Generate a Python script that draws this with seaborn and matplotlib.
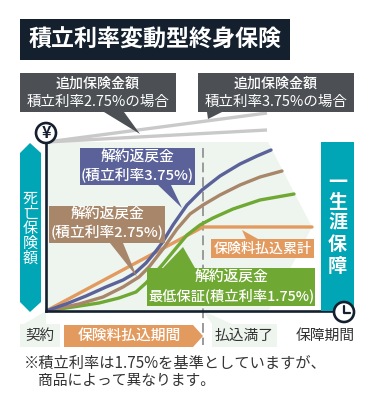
import matplotlib
matplotlib.use("Agg")
import matplotlib.pyplot as plt
from matplotlib.patches import Polygon, Rectangle, Circle
import pandas as pd
import seaborn as sns

sns.set_theme(style="white")
plt.rcParams['font.family'] = ['Noto Sans CJK JP', 'DejaVu Sans']

# --- data (x = elapsed time, y = amount, in chart units)
blue_x = [0, 20, 40, 60, 77, 89, 100, 110, 116, 127, 141, 156, 174, 194, 211, 225]
blue_y = [0, 7, 15, 24, 31, 38, 48, 60, 68, 86, 106, 121, 135, 147, 155, 161]
brown_x = [0, 33, 57, 77, 93, 103, 110, 117, 131, 144, 157, 174, 194, 214, 236]
brown_y = [0, 7, 14, 24, 34, 44, 53, 62, 82, 97, 106, 116, 126, 134, 140]
green_x = [0, 27, 53, 73, 90, 100, 110, 117, 131, 141, 154, 167, 187, 214, 248]
green_y = [0, 4, 8, 13, 19, 28, 39, 47, 64, 76, 86, 93, 102, 111, 117]
paid_x = [0, 157, 266]
paid_y = [0, 84, 84]

df = pd.concat([
    pd.DataFrame({"x": paid_x, "y": paid_y, "s": "保険料払込累計"}),
    pd.DataFrame({"x": green_x, "y": green_y, "s": "最低保証(1.75%)"}),
    pd.DataFrame({"x": brown_x, "y": brown_y, "s": "2.75%"}),
    pd.DataFrame({"x": blue_x, "y": blue_y, "s": "3.75%"}),
])
palette = {"保険料払込累計": "#e39a5e", "最低保証(1.75%)": "#6fa832",
           "2.75%": "#a8866a", "3.75%": "#5a6299"}

TEAL, NAVY, GREY = "#00a6b5", "#14202e", "#4c5054"
BG = "#edf5ee"
W, H = 375, 408

fig = plt.figure(figsize=(W / 100, H / 100), dpi=100, facecolor="white")

def layer(z):
    a = fig.add_axes([0, 0, 1, 1], zorder=z)
    a.set_xlim(0, W); a.set_ylim(H, 0); a.axis("off")
    a.patch.set_alpha(0)
    return a

def fs(px):
    return px * 0.72

back = layer(0)
top = layer(3)

def T(x, y, s, px, color="white", ha="center", weight="normal"):
    top.text(x, y + 2, s, color=color, fontsize=fs(px), ha=ha, va="center", weight=weight)

# background panel and grey death-benefit lines
back.add_patch(Polygon([(46, 142), (268, 142), (312, 227), (268, 311), (46, 311)], fc=BG, ec="none"))
back.add_patch(Polygon([(46, 311), (24, 324), (46, 324)], fc=BG, ec="none"))
back.add_patch(Polygon([(203, 311), (212, 324), (232, 324)], fc=BG, ec="none"))
back.plot([47, 267], [142, 113], color="#c9c9c9", lw=2.4, solid_capstyle="butt")
back.plot([47, 267], [142, 130], color="#c9c9c9", lw=2.4, solid_capstyle="butt")
back.plot([203, 203], [148, 345], color="#9a9a9a", lw=1.4, dashes=(5, 2.5))

# chart axes
ax = fig.add_axes([46 / W, 1 - 311 / H, 298 / W, 169 / H], zorder=1)
ax.patch.set_alpha(0)
sns.lineplot(data=df, x="x", y="y", hue="s", palette=palette, lw=2.4, legend=False,
             sort=False, errorbar=None, estimator=None, ax=ax, solid_joinstyle="round")
ax.set_xlim(0, 298); ax.set_ylim(0, 169)
ax.set_xticks([]); ax.set_yticks([]); ax.set_xlabel(""); ax.set_ylabel("")
for s in ("top", "right"):
    ax.spines[s].set_visible(False)
for s in ("left", "bottom"):
    ax.spines[s].set_color(NAVY); ax.spines[s].set_linewidth(1.9)

# title
top.add_patch(Rectangle((20, 19), 270, 41, fc=NAVY, ec="none"))
T(155, 38, "積立利率変動型終身保険", 23, weight="bold")

# grey callouts
for x0, tail, l2 in ((20, [(104, 112), (124, 112), (140, 134)], "積立利率2.75%の場合"),
                     (198, [(207, 112), (222, 112), (208, 119)], "積立利率3.75%の場合")):
    top.add_patch(Rectangle((x0, 73), 156, 39, fc=GREY, ec="none"))
    top.add_patch(Polygon(tail, fc=GREY, ec="none"))
    T(x0 + 78, 82, "追加保険金額", 14, weight="medium")
    T(x0 + 78, 100, l2, 14.5)

# teal blocks
top.add_patch(Polygon([(20, 153), (30, 143), (41, 153), (41, 302), (30, 312), (20, 302)], fc=TEAL, ec="none"))
for i, c in enumerate("死亡保険額"):
    T(30.5, 197 + i * 14.8, c, 15)
top.add_patch(Rectangle((321, 142), 33, 169, fc=TEAL, ec="none"))
for y, c in zip((181, 200, 221, 243, 264), "一生涯保障"):
    T(337.5, y, c, 19, weight="bold")

# yen and clock
top.add_patch(Circle((46, 133), 10, fc="white", ec=NAVY, lw=1.9))
T(46, 131.5, "¥", 16, color=NAVY, weight="bold")
top.add_patch(Circle((344, 312), 10, fc="white", ec=NAVY, lw=1.9))
top.plot([344, 344, 350], [306, 313, 313], color=NAVY, lw=1.6)

# coloured callouts
def box(x0, y0, x1, y1, col, tail):
    top.add_patch(Rectangle((x0, y0), x1 - x0, y1 - y0, fc=col, ec="none"))
    top.add_patch(Polygon(tail, fc=col, ec="none"))

LBL = 14.8
box(80, 148, 195, 185, "#5a6299", [(158, 185), (171, 185), (182, 208)])
T(137.5, 155.5, "解約返戻金", LBL, weight="medium")
T(137.5, 174, "(積立利率3.75%)", LBL, weight="medium")
box(49, 206, 165, 243, "#a8866a", [(110, 243), (123, 243), (137, 277)])
T(107, 213, "解約返戻金", LBL, weight="medium")
T(107, 231, "(積立利率2.75%)", LBL, weight="medium")
box(147, 268, 315, 306, "#6fa832", [(163, 268), (195, 268), (183, 247)])
T(231, 275.5, "解約返戻金", LBL, weight="medium")
T(231, 293.5, "最低保証(積立利率1.75%)", 14.2, weight="medium")
box(211, 239, 314, 258, "#e39a5e", [(242, 230), (246, 239), (258, 239)])
T(262.5, 247, "保険料払込累計", 14, weight="medium")

# bottom timeline
top.add_patch(Rectangle((20, 324), 40, 23, fc=BG, ec="none"))
T(40, 334, "契約", 14.5, color="#333333")
top.add_patch(Polygon([(64, 325), (193, 325), (203, 336), (193, 347), (64, 347)], fc="#e39a5e", ec="none"))
T(129, 334, "保険料払込期間", 14.8, weight="medium")
top.add_patch(Rectangle((212, 324), 65, 23, fc=BG, ec="none"))
T(244.5, 334, "払込満了", 14.8, color="#333333")
T(325, 334, "保障期間", 14.8, color="#333333")

# footnote
T(24, 361, "※積立利率は1.75%を基準としていますが、", 15.2, color="#333333", ha="left")
T(38, 379, "商品によって異なります。", 14.8, color="#333333", ha="left")

fig.savefig("out.png", dpi=100, facecolor="white")
